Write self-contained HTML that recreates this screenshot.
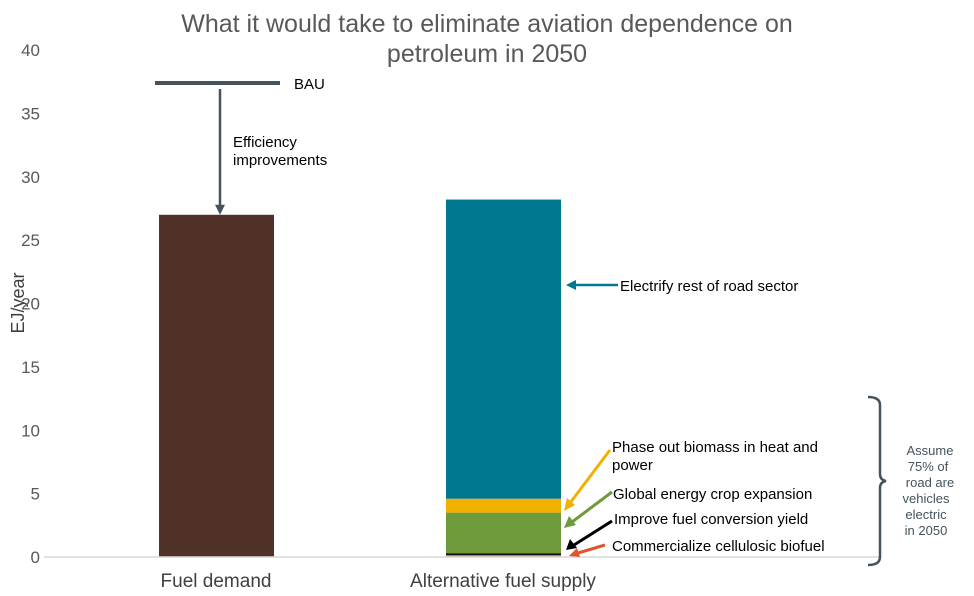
<!DOCTYPE html>
<html><head><meta charset="utf-8"><style>
body{margin:0;background:#fff;font-family:"Liberation Sans",sans-serif}
svg text{font-family:"Liberation Sans",sans-serif}
</style></head><body>
<svg id="chart" width="974" height="591" xmlns="http://www.w3.org/2000/svg">
<text x="487" y="32" text-anchor="middle" font-size="25" fill="#595959">What it would take to eliminate aviation dependence on</text>
<text x="487" y="62" text-anchor="middle" font-size="25" fill="#595959">petroleum in 2050</text>
<text transform="translate(24,303) rotate(-90)" text-anchor="middle" font-size="18" fill="#404040">EJ/year</text>
<g id="yticks"></g>
<g id="bars"></g>
<line x1="44" x2="880" y1="557" y2="557" stroke="#d9d9d9" stroke-width="1.5"/>
<text x="216" y="587" text-anchor="middle" font-size="19" fill="#404040">Fuel demand</text>
<text x="503" y="587" text-anchor="middle" font-size="19" fill="#404040">Alternative fuel supply</text>
<line id="bau" x1="155" x2="280" stroke="#44535c" stroke-width="4"/>
<text id="baut" x="294" font-size="15" fill="#000">BAU</text>
<line id="effarrow" x1="220" x2="220" stroke="#44535c" stroke-width="2.5"/>
<polygon id="effhead" fill="#44535c"/>
<text x="233" y="147" font-size="15">Efficiency</text>
<text x="233" y="165" font-size="15">improvements</text>
<g font-size="15" fill="#000">
<line x1="618" y1="285" x2="574" y2="285" stroke="#00788f" stroke-width="2.5"/><polygon points="566,285 576,280 576,290" fill="#00788f"/>
<text x="620" y="291">Electrify rest of road sector</text>
<line x1="610" y1="450" x2="570" y2="503" stroke="#f2b100" stroke-width="3"/><polygon points="564,511 567,498 575,505" fill="#f2b100"/>
<text x="612" y="452">Phase out biomass in heat and</text><text x="612" y="470">power</text>
<line x1="612" y1="492" x2="572" y2="522" stroke="#6f9a3c" stroke-width="3"/><polygon points="564,528 569,516 576,525" fill="#6f9a3c"/>
<text x="613" y="499">Global energy crop expansion</text>
<line x1="612" y1="521" x2="574" y2="545" stroke="#000" stroke-width="3"/><polygon points="566,550 570,539 577,548" fill="#000"/>
<text x="614" y="524">Improve fuel conversion yield</text>
<line x1="605" y1="545" x2="578" y2="553" stroke="#e0552f" stroke-width="3"/><polygon points="569,556 577,548 580,557" fill="#e0552f"/>
<text x="612" y="551">Commercialize cellulosic biofuel</text>
</g>
<path d="M868,397 Q880,397 880,405 L880,474 Q880,480 886,481 Q880,482 880,488 L880,557 Q880,565 868,565" fill="none" stroke="#44535c" stroke-width="2.5"/>
<g font-size="13" fill="#44535c" text-anchor="middle">
<text x="930" y="455">Assume</text><text x="928" y="471">75% of</text><text x="930" y="487">road are</text><text x="926" y="503">vehicles</text><text x="926" y="519">electric</text><text x="926" y="535">in 2050</text>
</g>
</svg>
<script>
const yTicks=[0,5,10,15,20,25,30,35,40];
const demandValue=[27];
const bauValue=37.4;
const supplyCategories=["Commercialize cellulosic biofuel","Improve fuel conversion yield","Global energy crop expansion","Phase out biomass in heat and power","Electrify rest of road sector"];
const supplyValues=[0.15,0.15,3.2,1.1,23.6];
const supplyColors=["#e0704f","#111","#6f9a3c","#f2b100","#00788f"];
const y=v=>557-v*12.675;
const ns="http://www.w3.org/2000/svg";
const yt=document.getElementById('yticks');
yTicks.forEach(t=>{const e=document.createElementNS(ns,'text');


e.setAttribute('x',40);e.setAttribute('y',y(t)+6);e.setAttribute('text-anchor','end');e.setAttribute('font-size','17');e.setAttribute('fill','#595959');e.textContent=t;yt.appendChild(e);});
const g=document.getElementById('bars');
function rect(x,w,v0,v1,c,name){const r=document.createElementNS(ns,'rect');


r.setAttribute('x',x);r.setAttribute('width',w);r.setAttribute('y',y(v1));r.setAttribute('height',y(v0)-y(v1));r.setAttribute('fill',c);g.appendChild(r);}
rect(159,115,0,demandValue[0],'#4f3127','bar-fuel-demand');
let acc=0;supplyValues.forEach((v,i)=>{rect(446,115,acc,acc+v,supplyColors[i],'bar-supply-segment');acc+=v;});
const b=document.getElementById('bau');b.setAttribute('y1',y(bauValue));b.setAttribute('y2',y(bauValue));
document.getElementById('baut').setAttribute('y',y(bauValue)+6);
const ea=document.getElementById('effarrow');ea.setAttribute('y1',y(bauValue)+6);ea.setAttribute('y2',y(demandValue[0])-8);
const yd=y(demandValue[0]);document.getElementById('effhead').setAttribute('points',`215,${yd-10} 225,${yd-10} 220,${yd}`);
</script>
</body></html>
